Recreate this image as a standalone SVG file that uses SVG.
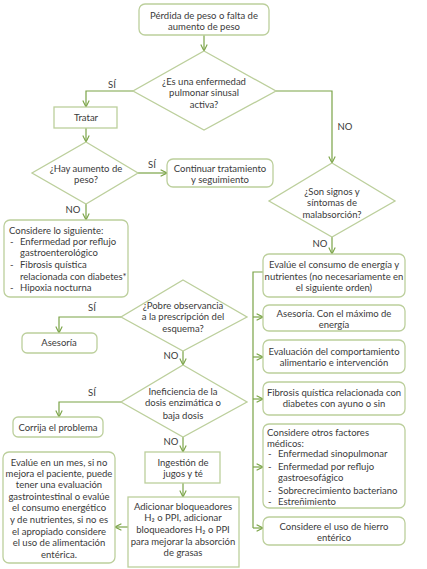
<svg xmlns="http://www.w3.org/2000/svg" width="427" height="569" viewBox="0 0 427 569">
<defs>
<style>
.bx{fill:#fff;stroke:#bccf9c;stroke-width:1.3}
.dm{fill:#fff;stroke:#bccf9c;stroke-width:1.3}
.ln{fill:none;stroke:#7aa346;stroke-width:1.2}
text{font-family:Lato,"Liberation Sans",sans-serif;font-size:9.5px;fill:#3a3a3a}
.c{text-anchor:middle}
</style>
<marker id="ah" viewBox="0 0 10 10" refX="9" refY="5" markerWidth="8" markerHeight="8" markerUnits="userSpaceOnUse" orient="auto">
<path d="M1,1 L9,5 L1,9" fill="none" stroke="#7aa346" stroke-width="1.4"/>
</marker>
</defs>
<rect width="427" height="569" fill="#fff"/>
<g id="connectors">
<path class="ln" d="M204,35 V51" marker-end="url(#ah)"/>
<path class="ln" d="M133,91 H86 V107" marker-end="url(#ah)"/>
<path class="ln" d="M276,91 H332 V163" marker-end="url(#ah)"/>
<path class="ln" d="M86,128 V142" marker-end="url(#ah)"/>
<path class="ln" d="M138,173 H167" marker-end="url(#ah)"/>
<path class="ln" d="M86,204 V220" marker-end="url(#ah)"/>
<path class="ln" d="M332,237 V254" marker-end="url(#ah)"/>
<path class="ln" d="M263,272 H253 V528"/>
<path class="ln" d="M253,317 H263" marker-end="url(#ah)"/>
<path class="ln" d="M253,357 H263" marker-end="url(#ah)"/>
<path class="ln" d="M253,399 H263" marker-end="url(#ah)"/>
<path class="ln" d="M253,467 H263" marker-end="url(#ah)"/>
<path class="ln" d="M253,528 H263" marker-end="url(#ah)"/>
<path class="ln" d="M121,317 H59 V333" marker-end="url(#ah)"/>
<path class="ln" d="M183,351 V365" marker-end="url(#ah)"/>
<path class="ln" d="M121,402 H59 V417" marker-end="url(#ah)"/>
<path class="ln" d="M183,437 V452" marker-end="url(#ah)"/>
<path class="ln" d="M183,483 V497" marker-end="url(#ah)"/>
<path class="ln" d="M128,527 H115" marker-end="url(#ah)"/>
<text x="112" y="88" class="c">SÍ</text>
<text x="345" y="130" class="c">NO</text>
<text x="152" y="168" class="c">SÍ</text>
<text x="73" y="213" class="c">NO</text>
<text x="320" y="247" class="c">NO</text>
<text x="92" y="311" class="c">SÍ</text>
<text x="171" y="359" class="c">NO</text>
<text x="92" y="396" class="c">SÍ</text>
<text x="171" y="445" class="c">NO</text>
</g>
<g id="n1"><rect class="bx" x="139" y="4" width="130" height="31" rx="6"/>
<text x="204" y="19" class="c">Pérdida de peso o falta de</text><text x="204" y="30" class="c">aumento de peso</text></g>
<g id="d1"><polygon class="dm" points="204,51 276,91 204,130 133,91"/>
<text x="204" y="85" class="c">¿Es una enfermedad</text><text x="204" y="96" class="c">pulmonar sinusal</text><text x="204" y="108" class="c">activa?</text></g>
<g id="n2"><rect class="bx" x="54" y="107" width="63" height="21"/>
<text x="86" y="121" class="c">Tratar</text></g>
<g id="d2"><polygon class="dm" points="86,142 138,173 86,204 32,173"/>
<text x="86" y="172" class="c">¿Hay aumento de</text><text x="86" y="183" class="c">peso?</text></g>
<g id="n3"><rect class="bx" x="167" y="159" width="106" height="28" rx="6"/>
<text x="220" y="172" class="c">Continuar tratamiento</text><text x="220" y="183" class="c">y seguimiento</text></g>
<g id="n4"><rect class="bx" x="4" y="220" width="124" height="77" rx="6"/>
<text x="9" y="234">Considere lo siguiente:</text>
<text x="10" y="245">-</text><text x="20" y="245">Enfermedad por reflujo</text>
<text x="20" y="256">gastroenterológico</text>
<text x="10" y="268">-</text><text x="20" y="268">Fibrosis quística</text>
<text x="20" y="280">relacionada con diabetes*</text>
<text x="10" y="291">-</text><text x="20" y="291">Hipoxia nocturna</text></g>
<g id="d3"><polygon class="dm" points="332,163 395,201 332,237 269,201"/>
<text x="332" y="195" class="c">¿Son signos y</text><text x="332" y="206" class="c">síntomas de</text><text x="332" y="218" class="c">malabsorción?</text></g>
<g id="n5"><rect class="bx" x="263" y="254" width="142" height="43" rx="6"/>
<text x="334" y="268" class="c">Evalúe el consumo de energía y</text><text x="334" y="280" class="c">nutrientes (no necesariamente en</text><text x="334" y="291" class="c">el siguiente orden)</text></g>
<g id="n6"><rect class="bx" x="263" y="305" width="142" height="26" rx="6"/>
<text x="334" y="317" class="c">Asesoría. Con el máximo de</text><text x="334" y="328" class="c">energía</text></g>
<g id="n7"><rect class="bx" x="263" y="340" width="142" height="33" rx="6"/>
<text x="334" y="355" class="c">Evaluación del comportamiento</text><text x="334" y="366" class="c">alimentario e intervención</text></g>
<g id="n8"><rect class="bx" x="263" y="382" width="142" height="33" rx="6"/>
<text x="334" y="396" class="c">Fibrosis quística relacionada con</text><text x="334" y="407" class="c">diabetes con ayuno o sin</text></g>
<g id="n9"><rect class="bx" x="263" y="424" width="142" height="84" rx="6"/>
<text x="267" y="436">Considere otros factores</text>
<text x="267" y="447">médicos:</text>
<text x="268" y="457">-</text><text x="278" y="457">Enfermedad sinopulmonar</text>
<text x="268" y="470">-</text><text x="278" y="470">Enfermedad por reflujo</text>
<text x="278" y="481">gastroesofágico</text>
<text x="268" y="494">-</text><text x="278" y="494">Sobrecrecimiento bacteriano</text>
<text x="268" y="505">-</text><text x="278" y="505">Estreñimiento</text></g>
<g id="n10"><rect class="bx" x="263" y="517" width="142" height="28" rx="6"/>
<text x="334" y="530" class="c">Considere el uso de hierro</text><text x="334" y="541" class="c">entérico</text></g>
<g id="d4"><polygon class="dm" points="183,280 247,317 183,351 121,317"/>
<text x="183" y="309" class="c">¿Pobre observancia</text><text x="183" y="320" class="c">a la prescripción del</text><text x="183" y="332" class="c">esquema?</text></g>
<g id="n11"><rect class="bx" x="22" y="333" width="75" height="20" rx="5"/>
<text x="59" y="346" class="c">Asesoría</text></g>
<g id="d5"><polygon class="dm" points="183,365 247,402 183,437 121,402"/>
<text x="183" y="395" class="c">Ineficiencia de la</text><text x="183" y="406" class="c">dosis enzimática o</text><text x="183" y="419" class="c">baja dosis</text></g>
<g id="n12"><rect class="bx" x="13" y="417" width="90" height="20" rx="5"/>
<text x="58" y="431" class="c">Corrija el problema</text></g>
<g id="n13"><rect class="bx" x="145" y="452" width="75" height="31"/>
<text x="183" y="466" class="c">Ingestión de</text><text x="183" y="477" class="c">jugos y té</text></g>
<g id="n14"><rect class="bx" x="128" y="497" width="111" height="70"/>
<text x="183" y="510" class="c">Adicionar bloqueadores</text><text x="183" y="521" class="c">H₂ o PPI, adicionar</text><text x="183" y="533" class="c">bloqueadores H₂ o PPI</text><text x="183" y="545" class="c">para mejorar la absorción</text><text x="183" y="556" class="c">de grasas</text></g>
<g id="n15"><rect class="bx" x="3" y="452" width="112" height="111" rx="6"/>
<text x="59" y="466" class="c">Evalúe en un mes, si no</text><text x="59" y="477" class="c">mejora el paciente, puede</text><text x="59" y="488" class="c">tener una evaluación</text><text x="59" y="500" class="c">gastrointestinal o evalúe</text><text x="59" y="511" class="c">el consumo energético</text><text x="59" y="523" class="c">y de nutrientes, si no es</text><text x="59" y="535" class="c">el apropiado considere</text><text x="59" y="546" class="c">el uso de alimentación</text><text x="59" y="558" class="c">entérica.</text></g>
</svg>
